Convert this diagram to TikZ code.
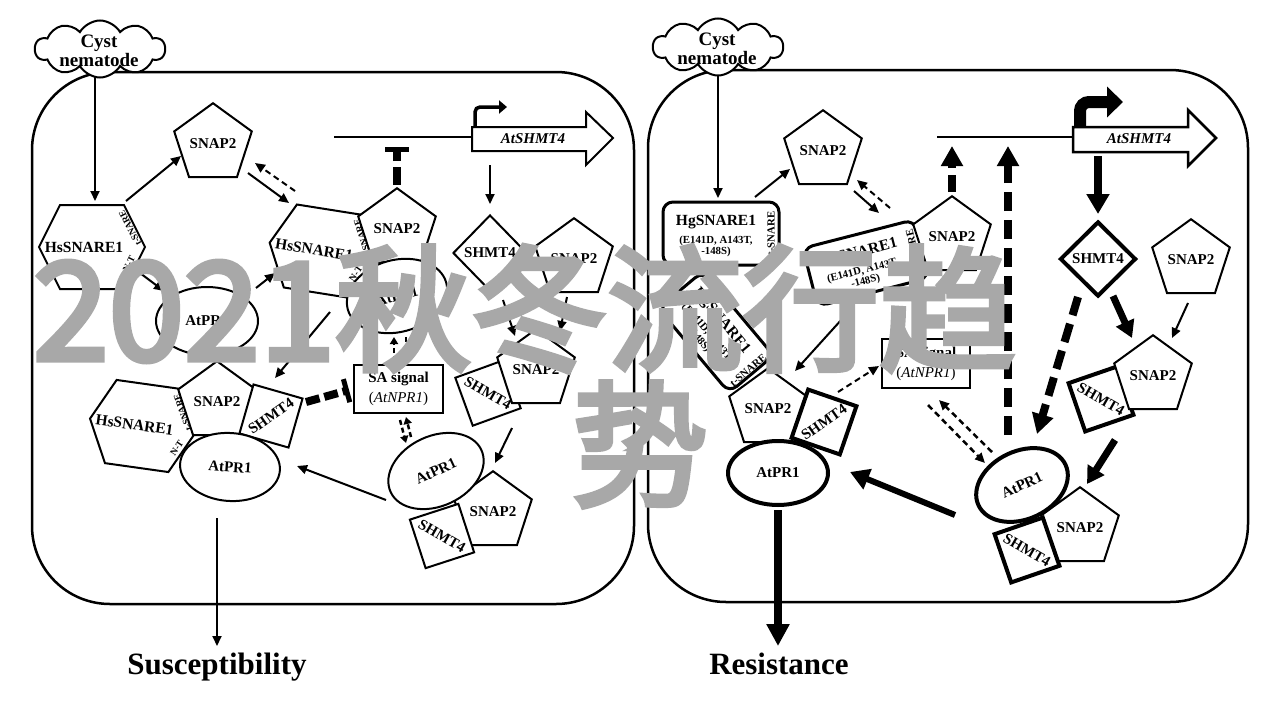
\documentclass[tikz,border=0pt]{standalone}
\usepackage{fontspec}
\setmainfont{Liberation Serif}
\newfontfamily\cjkwm[FakeBold=4]{Noto Sans CJK SC}
\usetikzlibrary{arrows.meta,shapes.geometric,shapes.symbols}
\definecolor{wmgray}{gray}{0.66}
\newcommand{\fsz}[1]{\fontsize{#1}{#1}\selectfont}

\tikzset{
 lab/.style={font=\bfseries\fsz{15}, inner sep=0pt},
 labsm/.style={font=\bfseries\fsz{10.8}, inner sep=0pt},
 labxs/.style={font=\bfseries\fsz{9.5}, inner sep=0pt},
 shp/.style={draw, line width=2pt, fill=white},
 shpk/.style={draw, line width=4pt, fill=white},
 pent/.style={regular polygon, regular polygon sides=5, minimum size=74pt, inner sep=0pt, font=\bfseries\fsz{15}},
 sqbox/.style={rectangle, minimum size=51pt, inner sep=0pt},
 ell/.style={ellipse, inner sep=0pt, font=\bfseries\fsz{15}},
 hgb/.style={draw, line width=3pt, fill=white, rounded corners=10pt, inner sep=0pt},
 cloudsh/.style={cloud, cloud puffs=10, cloud puff arc=120, cloud ignores aspect, draw, fill=white, line width=2pt, minimum width=130pt, minimum height=57pt, inner sep=0pt},
 arr/.style={line width=2pt, -{Triangle[length=10pt,width=9pt]}},
 darr/.style={arr, dash pattern=on 6pt off 4pt},
 sdarr/.style={line width=2.5pt, dash pattern=on 5pt off 3pt, -{Triangle[length=7pt,width=8pt]}},
 thk/.style={line width=7pt, -{Triangle[length=17pt,width=19pt]}},
 thkd/.style={line width=8pt, dash pattern=on 19pt off 9pt, -{Triangle[length=20pt,width=21pt]}},
 inhib/.style={line width=8pt, -{Bar[width=24pt,line width=5pt]}},
 wmtext/.style={font=\cjkwm\fsz{136}, text=wmgray, inner sep=0pt},
}

\newcommand{\hexshape}[3]{%
 \begin{scope}[shift={#2}, rotate=#3, transform shape]
  \draw[shp] (-32,-42) coordinate (#1-nw) -- (32,-42) coordinate (#1-ne) -- (53,0) coordinate (#1-e) -- (32,42) coordinate (#1-se) -- (-32,42) coordinate (#1-sw) -- (-53,0) coordinate (#1-w) -- cycle;
  \node[font=\bfseries\fsz{15.5}, inner sep=0pt] (#1) at (-8,0) {HsSNARE1};
  \node[labxs, rotate=117] at (38,-19) {t-SNARE};
  \node[labxs, rotate=64] at (37,17) {N-T};
 \end{scope}}

\newcommand{\hgbox}[5]{%
 \begin{scope}[shift={#2}, rotate=#3, transform shape]
  \node[hgb, minimum width=#4, minimum height=#5] (#1) at (0,0) {};
  \node[font=\bfseries\fsz{15.5}, inner sep=0pt] at (-5,-11) {HgSNARE1};
  \node[labsm] at (-5,7) {(E141D, A143T,};
  \node[labsm] at (-5,18) {-148S)};
  \node[labsm, rotate=90] at (50,0) {t-SNARE};
 \end{scope}}

\begin{document}
\begin{tikzpicture}[x=1pt,y=-1pt]
\useasboundingbox (0,0) rectangle (1280,720);
\fill[white] (0,0) rectangle (1280,720);

% panels
\draw[line width=2.5pt, rounded corners=78pt] (32,72) rectangle (634,604);
\draw[line width=2.5pt, rounded corners=78pt] (648,70) rectangle (1248,602);

% clouds
\node[cloudsh] (cyL) at (100,49) {};
\node[font=\bfseries\fsz{19}, align=center, inner sep=0pt] at (99,51) {Cyst\\nematode};
\node[cloudsh] (cyR) at (718,47) {};
\node[font=\bfseries\fsz{19}, align=center, inner sep=0pt] at (717,49) {Cyst\\nematode};

% ---------------- LEFT PANEL ----------------
% gene
\draw[line width=1.5pt] (334,137) coordinate (promL) -- (472,137);
\draw[line width=2pt, fill=white] (472,127) -- (586,127) -- (586,112) -- (613,138) -- (586,165) -- (586,151) -- (472,151) -- cycle;
\node[font=\bfseries\itshape\fsz{15}, inner sep=0pt] (gL) at (533,139) {AtSHMT4};
\coordinate (bentL0) at (475,127);
\coordinate (bentL1) at (475,107);
\coordinate (bentL2) at (507,107);
\draw[line width=3.5pt, rounded corners=5pt, -{Triangle[length=8pt,width=13pt]}] (bentL0) -- (bentL1) -- (bentL2);

% shapes
\hexshape{hxA}{(92,247)}{0}
\node[pent, shp] (pL1) at (213,144) {SNAP2};
\node[ell, shp, minimum width=102pt, minimum height=68pt] (eL1) at (207,321) {AtPR1};

\hexshape{hxB}{(322,251)}{-9}
\node[pent, shp] (pL2) at (397,229) {SNAP2};
\node[ell, shp, minimum width=102pt, minimum height=72pt, rotate=15] (eL2) at (397,296) {AtPR1};

\node[diamond, shp, minimum width=74pt, minimum height=76pt, inner sep=0pt, font=\bfseries\fsz{15}] (dL) at (490,253) {SHMT4};
\node[pent, shp] (pL3) at (574,259) {SNAP2};

\node[sqbox, shp, rotate=20] (sL1) at (488,393) {};
\node[lab, rotate=-30] at (sL1) {SHMT4};
\node[pent, shp] (pL4) at (536,370) {SNAP2};

\node[shp, minimum width=89pt, minimum height=48pt, inner sep=0pt] (saL) at (398.5,389) {};
\node[font=\fontsize{15}{20}\selectfont, align=center, inner sep=0pt] at (saL) {\textbf{SA signal}\\(\textit{AtNPR1})};

\node[pent, shp] (pL5) at (493,512) {SNAP2};
\node[sqbox, shp, rotate=18] (sL2) at (442,536) {};
\node[lab, rotate=-30] at (sL2) {SHMT4};
\node[ell, shp, minimum width=100pt, minimum height=70pt, rotate=25] (eL4) at (436,471) {AtPR1};

\hexshape{hxC}{(142.5,426)}{-8}
\node[pent, shp] (pL6) at (217,402) {SNAP2};
\node[sqbox, shp, rotate=-16] (sL3) at (271,416) {};
\node[lab, rotate=35] at (sL3) {SHMT4};
\node[ell, shp, minimum width=100pt, minimum height=68pt, rotate=-4] (eL3) at (230,467) {AtPR1};

\node[font=\bfseries\fsz{31}, inner sep=0pt, anchor=base] (sus) at (217,674) {Susceptibility};

% left connectors
\coordinate (a1s) at (95,77);   \coordinate (a1e) at (95,201);
\draw[arr] (a1s) -- (a1e);
\coordinate (a2s) at (126,201); \coordinate (a2e) at (181,156);
\draw[arr] (a2s) -- (a2e);
\coordinate (a3s) at (248,173); \coordinate (a3e) at (289,203);
\draw[arr] (a3s) -- (a3e);
\coordinate (a4s) at (295,191); \coordinate (a4e) at (255,163);
\draw[darr] (a4s) -- (a4e);
\coordinate (a5s) at (140,273); \coordinate (a5e) at (164,291);
\draw[arr] (a5s) -- (a5e);
\coordinate (a6s) at (256,288); \coordinate (a6e) at (275,273);
\draw[arr] (a6s) -- (a6e);
\coordinate (a7s) at (330,312); \coordinate (a7e) at (275,378);
\draw[arr] (a7s) -- (a7e);
\coordinate (a8s) at (397,185); \coordinate (a8e) at (397,147);
\draw[inhib, dash pattern=on 18pt off 6pt] (a8s) -- (a8e);
\coordinate (a9s) at (490,165); \coordinate (a9e) at (490,204);
\draw[arr] (a9s) -- (a9e);
\coordinate (a10s) at (503,300); \coordinate (a10e) at (515,336);
\draw[arr] (a10s) -- (a10e);
\coordinate (a11s) at (567,297); \coordinate (a11e) at (560,331);
\draw[arr] (a11s) -- (a11e);
\coordinate (a12s) at (512,428); \coordinate (a12e) at (495,463);
\draw[arr] (a12s) -- (a12e);
\coordinate (a13s) at (394,361); \coordinate (a13e) at (394,337);
\draw[sdarr] (a13s) -- (a13e);
\coordinate (a13t) at (406,337); \coordinate (a13u) at (406,361);
\draw[sdarr] (a13t) -- (a13u);
\coordinate (a14s) at (400,420); \coordinate (a14e) at (406,443);
\draw[sdarr] (a14s) -- (a14e);
\coordinate (a14t) at (411,437); \coordinate (a14u) at (406,417);
\draw[sdarr] (a14t) -- (a14u);
\coordinate (a15s) at (306,402); \coordinate (a15e) at (349,390);
\draw[inhib, dash pattern=on 14pt off 5pt] (a15s) -- (a15e);
\coordinate (a16s) at (386,500); \coordinate (a16e) at (297,466);
\draw[arr] (a16s) -- (a16e);
\coordinate (a17s) at (217,518); \coordinate (a17e) at (217,646);
\draw[arr] (a17s) -- (a17e);

% ---------------- RIGHT PANEL ----------------
\draw[line width=1.5pt] (937,137) coordinate (promR) -- (1073,137);
\draw[line width=2.5pt, fill=white] (1073,127) -- (1188,127) -- (1188,110) -- (1216,138) -- (1188,166) -- (1188,152) -- (1073,152) -- cycle;
\node[font=\bfseries\itshape\fsz{15}, inner sep=0pt] (gR) at (1139,139) {AtSHMT4};
\coordinate (bentR0) at (1080,127);
\coordinate (bentR1) at (1080,102);
\coordinate (bentR2) at (1123,102);
\draw[line width=12pt, rounded corners=9pt, -{Triangle[length=16pt,width=30pt]}] (bentR0) -- (bentR1) -- (bentR2);

\hgbox{bR1}{(721,233.5)}{0}{116pt}{63pt}
\node[pent, shp] (pR1) at (823,151) {SNAP2};
\hgbox{bR2}{(866,263)}{14.4}{115pt}{60pt}
\node[pent, shp] (pR2) at (952,237) {SNAP2};

\node[diamond, shpk, minimum width=76pt, minimum height=75pt, inner sep=0pt, font=\bfseries\fsz{15}] (dR) at (1098,259) {SHMT4};
\node[pent, shp] (pR3) at (1191,260) {SNAP2};

\node[sqbox, shpk, rotate=19] (sR2) at (1101,399) {};
\node[lab, rotate=-30] at (sR2) {SHMT4};
\node[pent, shp] (pR4) at (1153,376) {SNAP2};

\node[shp, minimum width=88pt, minimum height=49pt, inner sep=0pt] (saR) at (926,363.5) {};
\node[font=\fontsize{15}{20}\selectfont, align=center, inner sep=0pt] at (saR) {\textbf{SA signal}\\(\textit{AtNPR1})};

\node[pent, shp] (pR5) at (1080,528) {SNAP2};
\node[sqbox, shpk, rotate=19] (sR3) at (1027,550) {};
\node[lab, rotate=-30] at (sR3) {SHMT4};
\node[ell, shpk, minimum width=96pt, minimum height=68pt, rotate=25] (eR2) at (1022,485) {AtPR1};

\hgbox{bR3}{(716,332)}{-50}{110pt}{58pt}
\node[pent, shp] (pR6) at (768,409) {SNAP2};
\node[sqbox, shpk, rotate=-19] (sR1) at (824,422) {};
\node[lab, rotate=35] at (sR1) {SHMT4};
\node[ell, shpk, minimum width=100pt, minimum height=64pt] (eR1) at (778,473) {AtPR1};

\node[font=\bfseries\fsz{31}, inner sep=0pt, anchor=base] (res) at (779,674) {Resistance};

% right connectors
\coordinate (b1s) at (718,76);   \coordinate (b1e) at (718,198);
\draw[arr] (b1s) -- (b1e);
\coordinate (b2s) at (755,197);  \coordinate (b2e) at (790,169);
\draw[arr] (b2s) -- (b2e);
\coordinate (b3s) at (854,191);  \coordinate (b3e) at (879,213);
\draw[arr] (b3s) -- (b3e);
\coordinate (b4s) at (890,208);  \coordinate (b4e) at (857,180);
\draw[darr] (b4s) -- (b4e);
\coordinate (b5s) at (952,192);  \coordinate (b5e) at (952,146);
\draw[thkd, dash pattern=on 17pt off 7pt] (b5s) -- (b5e);
\coordinate (b6s) at (1008,435); \coordinate (b6e) at (1008,146);
\draw[thkd] (b6s) -- (b6e);
\coordinate (b7s) at (1098,156); \coordinate (b7e) at (1098,214);
\draw[line width=8pt, -{Triangle[length=20pt,width=22pt]}] (b7s) -- (b7e);
\coordinate (b8s) at (1113,296); \coordinate (b8e) at (1132,338);
\draw[thk] (b8s) -- (b8e);
\coordinate (b9s) at (1078,297); \coordinate (b9e) at (1037,434);
\draw[thkd] (b9s) -- (b9e);
\coordinate (b10s) at (1188,303); \coordinate (b10e) at (1172,338);
\draw[arr] (b10s) -- (b10e);
\coordinate (b11s) at (1115,440); \coordinate (b11e) at (1087,484);
\draw[thk] (b11s) -- (b11e);
\coordinate (b12s) at (928,405); \coordinate (b12e) at (985,463);
\draw[darr, line width=2.5pt] (b12s) -- (b12e);
\coordinate (b12t) at (992,452); \coordinate (b12u) at (939,400);
\draw[darr, line width=2.5pt] (b12t) -- (b12u);
\coordinate (b13s) at (838,392); \coordinate (b13e) at (879,366);
\draw[darr] (b13s) -- (b13e);
\coordinate (b14s) at (852,308); \coordinate (b14e) at (795,371);
\draw[arr] (b14s) -- (b14e);
\coordinate (b15s) at (955,515); \coordinate (b15e) at (850,472);
\draw[line width=6pt, -{Triangle[length=19pt,width=21pt]}] (b15s) -- (b15e);
\coordinate (b16s) at (778,510); \coordinate (b16e) at (778,646);
\draw[line width=8pt, -{Triangle[length=22pt,width=22pt]}] (b16s) -- (b16e);

% watermark
\node[wmtext, anchor=base west] (wm1) at (33,360) {2021秋冬流行趋};
\node[wmtext, anchor=base] (wm2) at (640,496) {势};
\end{tikzpicture}
\end{document}
